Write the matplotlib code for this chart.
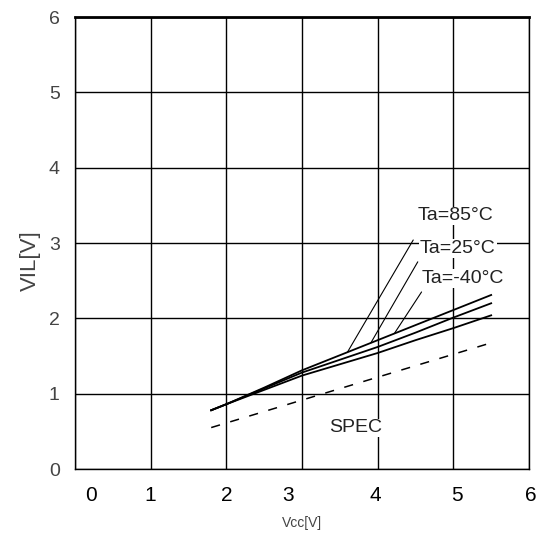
import numpy as np
import matplotlib
matplotlib.use("Agg")
import matplotlib.pyplot as plt
import matplotlib.transforms as mtransforms

# ---- data ----
vcc = [1.8, 2.0, 2.5, 3.0, 3.5, 4.0, 4.5, 5.0, 5.5]
vil_top = [0.78, 0.86, 1.08, 1.31, 1.51, 1.71, 1.91, 2.11, 2.31]
vil_mid = [0.78, 0.86, 1.07, 1.28, 1.45, 1.62, 1.81, 2.01, 2.20]
vil_bot = [0.78, 0.86, 1.05, 1.24, 1.39, 1.54, 1.71, 1.87, 2.04]
spec_vcc = [1.8, 5.55]
spec_vil = [0.55, 1.69]

temp_labels = ["Ta=85°C", "Ta=25°C", "Ta=-40°C"]
label_x = [4.53, 4.56, 4.58]
label_y = [3.36, 2.93, 2.53]
leader_start = [(4.47, 3.04), (4.53, 2.75), (4.58, 2.35)]
leader_end_x = [3.6, 3.91, 4.22]

x_ticklabels = ["0", "1", "2", "3", "4", "5", "6"]
x_ticklabel_pos = [0.21, 1.0, 2.0, 2.82, 3.97, 5.05, 6.02]
y_ticks = [0, 1, 2, 3, 4, 5, 6]

plt.rcParams['font.family'] = ['Liberation Sans', 'DejaVu Sans']

fig = plt.figure(figsize=(5.44, 5.36), dpi=100)
ax = fig.add_axes([75/544, 67/536, 454/544, 452/536])
ax.set_xlim(0, 6)
ax.set_ylim(0, 6)

ax.set_xticks(range(7))
ax.set_yticks(y_ticks)
ax.set_xticklabels([])
ax.set_yticklabels([str(v) for v in y_ticks], fontsize=14, color="#444444")
ax.tick_params(axis='both', length=0)
ax.tick_params(axis='y', pad=11)
ax.grid(True, color="black", linewidth=1.0)
ax.set_axisbelow(True)

for side in ["left", "right", "bottom"]:
    ax.spines[side].set_linewidth(1.0)
ax.spines["top"].set_linewidth(2.0)

# curves
for ys in (vil_top, vil_mid, vil_bot):
    ax.plot(vcc, ys, color="black", linewidth=1.3, zorder=3)

spec_line, = ax.plot(spec_vcc, spec_vil, color="black", linewidth=1.1, zorder=3)
spec_line.set_dashes((6, 7))

# labels with leaders
for lab, lx, ly, (sx, sy), ex in zip(temp_labels, label_x, label_y, leader_start, leader_end_x):
    ey = np.interp(ex, vcc, vil_top)
    ax.annotate("", xy=(ex, ey), xytext=(sx, sy),
                arrowprops=dict(arrowstyle="-", color="black", linewidth=0.8,
                                shrinkA=0, shrinkB=0), zorder=4)
    ax.text(lx, ly, lab, fontsize=14, color="#222222", ha="left", va="center",
            bbox=dict(facecolor="white", edgecolor="none", pad=0.5), zorder=5)

ax.text(3.71, 0.545, "SPEC", fontsize=14, color="#222222", ha="center", va="center",
        bbox=dict(facecolor="white", edgecolor="none", pad=0.5), zorder=5)

# x tick labels (offset as in the reference)
trans = mtransforms.blended_transform_factory(ax.transData, ax.transAxes)
for lab, xp in zip(x_ticklabels, x_ticklabel_pos):
    ax.text(xp, -0.058, lab, transform=trans, fontsize=15, color="black",
            ha="center", va="center", clip_on=False)

ax.text(3.0, -0.12, "Vcc[V]", transform=trans, fontsize=10, color="#444444",
        ha="center", va="center")
ax.set_ylabel("VIL[V]", fontsize=16, color="#444444")
ax.yaxis.set_label_coords(-0.075, 0.46)

fig.savefig("out.png", dpi=100)
